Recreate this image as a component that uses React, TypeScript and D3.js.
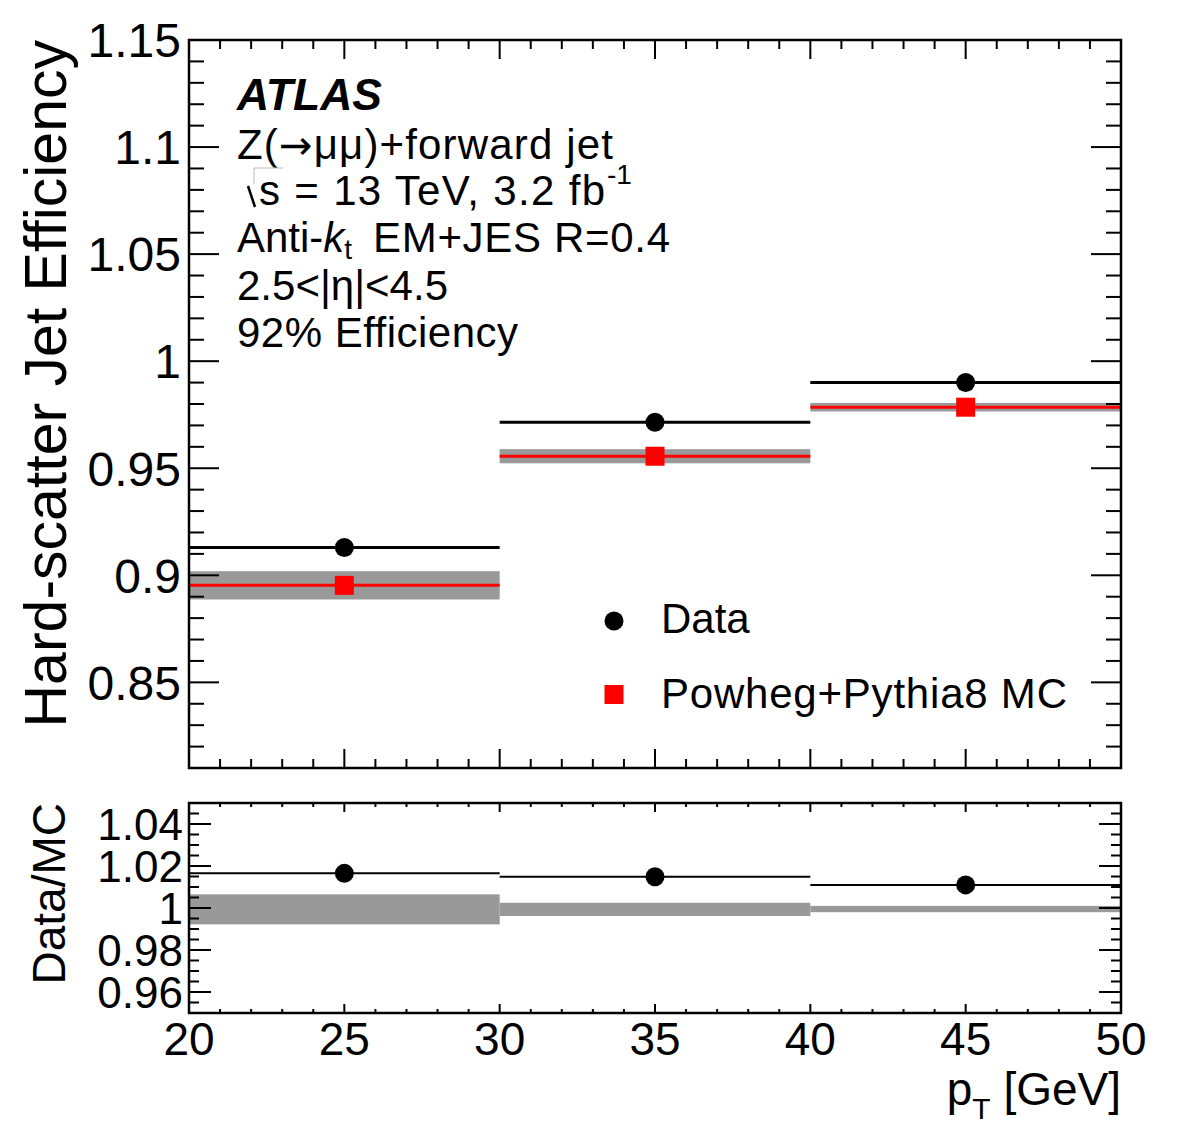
import React from "react";
import * as d3 from "d3";

// ---- data ----
const binEdges = [20, 30, 40, 50];
const binCenters = [25, 35, 45];
const dataEff = [0.913, 0.9715, 0.99];
const mcEff = [0.8953, 0.9556, 0.9785];
const mcErr = [0.0066, 0.0033, 0.002];
const ratioVals = [1.0165, 1.0149, 1.011];
const ratioBandLo = [0.9922, 0.9962, 0.998];
const ratioBandHi = [1.0065, 1.0025, 1.001];
const topYTicks = [0.85, 0.9, 0.95, 1, 1.05, 1.1, 1.15];
const topYTickLabels = ["0.85", "0.9", "0.95", "1", "1.05", "1.1", "1.15"];
const lowYTicks = [0.96, 0.98, 1, 1.02, 1.04];
const lowYTickLabels = ["0.96", "0.98", "1", "1.02", "1.04"];
const xTicks = [20, 25, 30, 35, 40, 45, 50];

const FONT = "'Liberation Sans', Arial, Helvetica, sans-serif";

const L = 189, R = 1121;
const T1 = 40, B1 = 768;
const T2 = 803, B2 = 1013;

export default function App() {
  const x = d3.scaleLinear().domain([20, 50]).range([L, R]);
  const y1 = d3.scaleLinear().domain([0.81, 1.15]).range([B1, T1]);
  const y2 = d3.scaleLinear().domain([0.95, 1.05]).range([B2, T2]);

  const xMinor = d3.range(20, 50.001, 1);
  const y1Minor = d3.range(0.81, 1.1501, 0.01);
  const y2Minor = d3.range(0.95, 1.0501, 0.005);

  const tickStroke = { stroke: "#000", strokeWidth: 2 };
  const isMajorX = (v: number) => Math.abs(v / 5 - Math.round(v / 5)) < 1e-6;
  const isMajorY1 = (v: number) => Math.abs(v / 0.05 - Math.round(v / 0.05)) < 1e-6;
  const isMajorY2 = (v: number) => Math.abs(v / 0.02 - Math.round(v / 0.02)) < 1e-6;

  return (
    <svg
      width={1182}
      height={1134}
      style={{ position: "absolute", left: 0, top: 0, background: "#fff" }}
      fontFamily={FONT}
    >
      <rect x={0} y={0} width={1182} height={1134} fill="#fff" />

      {/* ===== TOP PANEL ===== */}
      {binCenters.map((c, i) => (
        <rect
          key={"mcb" + i}
          x={x(binEdges[i])}
          width={x(binEdges[i + 1]) - x(binEdges[i])}
          y={y1(mcEff[i] + mcErr[i])}
          height={y1(mcEff[i] - mcErr[i]) - y1(mcEff[i] + mcErr[i])}
          fill="#999999"
        />
      ))}
      {binCenters.map((c, i) => (
        <line
          key={"mcl" + i}
          x1={x(binEdges[i])}
          x2={x(binEdges[i + 1])}
          y1={y1(mcEff[i])}
          y2={y1(mcEff[i])}
          stroke="#ff0000"
          strokeWidth={3}
        />
      ))}
      {binCenters.map((c, i) => (
        <line
          key={"dl" + i}
          x1={x(binEdges[i])}
          x2={x(binEdges[i + 1])}
          y1={y1(dataEff[i])}
          y2={y1(dataEff[i])}
          stroke="#000"
          strokeWidth={3}
        />
      ))}
      {binCenters.map((c, i) => (
        <rect
          key={"mcm" + i}
          x={x(c) - 9.5}
          y={y1(mcEff[i]) - 9.5}
          width={19}
          height={19}
          fill="#ff0000"
        />
      ))}
      {binCenters.map((c, i) => (
        <circle key={"dm" + i} cx={x(c)} cy={y1(dataEff[i])} r={9.5} fill="#000" />
      ))}

      {xMinor.map((v, i) => {
        const len = isMajorX(v) ? 19 : 9;
        return (
          <g key={"tx" + i}>
            <line x1={x(v)} x2={x(v)} y1={B1} y2={B1 - len} {...tickStroke} />
            <line x1={x(v)} x2={x(v)} y1={T1} y2={T1 + len} {...tickStroke} />
          </g>
        );
      })}
      {y1Minor.map((v, i) => {
        const len = isMajorY1(v) ? 30 : 15;
        return (
          <g key={"ty" + i}>
            <line x1={L} x2={L + len} y1={y1(v)} y2={y1(v)} {...tickStroke} />
            <line x1={R} x2={R - len} y1={y1(v)} y2={y1(v)} {...tickStroke} />
          </g>
        );
      })}
      <rect x={L} y={T1} width={R - L} height={B1 - T1} fill="none" stroke="#000" strokeWidth={2.5} />

      {topYTicks.map((v, i) => (
        <text key={"tyl" + i} x={181} y={y1(v)} dy="0.36em" textAnchor="end" fontSize={48}>
          {topYTickLabels[i]}
        </text>
      ))}

      <text
        transform={`translate(66, ${T1}) rotate(-90)`}
        textAnchor="end"
        fontSize={59}
      >
        Hard-scatter Jet Efficiency
      </text>

      {/* annotation */}
      <text x={237} y={110} fontSize={44} fontWeight="bold" fontStyle="italic" textLength={145} lengthAdjust="spacingAndGlyphs">ATLAS</text>
      <text x={237} y={159} fontSize={42} textLength={376} lengthAdjust="spacing">
        Z(<tspan fontFamily="'DejaVu Sans', sans-serif" fontSize={40}>→</tspan>μμ)+forward jet
      </text>
      <path d="M248,186 L255,207" stroke="#000" strokeWidth={2.5} fill="none" />
      <path d="M254,184 L254,168 L283,168" stroke="#bbb" strokeWidth={1} fill="none" />
      <text x={259} y={205} fontSize={42} textLength={346} lengthAdjust="spacing">s = 13 TeV, 3.2 fb</text>
      <text x={607} y={184} fontSize={28}>-1</text>
      <text x={237} y={252} fontSize={42}>
        Anti-<tspan fontStyle="italic">k</tspan>
        <tspan fontSize={28} dy={7}>t</tspan>
      </text>
      <text x={373} y={252} fontSize={42} textLength={297} lengthAdjust="spacing">EM+JES R=0.4</text>
      <text x={237} y={300} fontSize={42}>2.5&lt;|η|&lt;4.5</text>
      <text x={237} y={347} fontSize={42} textLength={281} lengthAdjust="spacing">92% Efficiency</text>

      {/* legend */}
      <circle cx={614} cy={621} r={9.5} fill="#000" />
      <text x={661} y={633} fontSize={42}>Data</text>
      <rect x={604.5} y={685} width={19} height={19} fill="#ff0000" />
      <text x={661} y={708} fontSize={42} textLength={406} lengthAdjust="spacing">Powheg+Pythia8 MC</text>

      {/* ===== LOWER PANEL ===== */}
      {binCenters.map((c, i) => (
        <rect
          key={"rb" + i}
          x={x(binEdges[i])}
          width={x(binEdges[i + 1]) - x(binEdges[i])}
          y={y2(ratioBandHi[i])}
          height={y2(ratioBandLo[i]) - y2(ratioBandHi[i])}
          fill="#999999"
        />
      ))}
      {binCenters.map((c, i) => (
        <line
          key={"rl" + i}
          x1={x(binEdges[i])}
          x2={x(binEdges[i + 1])}
          y1={y2(ratioVals[i])}
          y2={y2(ratioVals[i])}
          stroke="#000"
          strokeWidth={2}
        />
      ))}
      {binCenters.map((c, i) => (
        <circle key={"rm" + i} cx={x(c)} cy={y2(ratioVals[i])} r={9.5} fill="#000" />
      ))}

      {xMinor.map((v, i) => {
        const len = isMajorX(v) ? 9 : 4;
        return (
          <g key={"lx" + i}>
            <line x1={x(v)} x2={x(v)} y1={B2} y2={B2 - len} {...tickStroke} />
            <line x1={x(v)} x2={x(v)} y1={T2} y2={T2 + len} {...tickStroke} />
          </g>
        );
      })}
      {y2Minor.map((v, i) => {
        const len = isMajorY2(v) ? 22 : 10;
        return (
          <g key={"ly" + i}>
            <line x1={L} x2={L + len} y1={y2(v)} y2={y2(v)} {...tickStroke} />
            <line x1={R} x2={R - len} y1={y2(v)} y2={y2(v)} {...tickStroke} />
          </g>
        );
      })}
      <rect x={L} y={T2} width={R - L} height={B2 - T2} fill="none" stroke="#000" strokeWidth={2.5} />

      {lowYTicks.map((v, i) => (
        <text key={"lyl" + i} x={183} y={y2(v)} dy="0.36em" textAnchor="end" fontSize={44}>
          {lowYTickLabels[i]}
        </text>
      ))}
      {xTicks.map((v, i) => (
        <text key={"xl" + i} x={x(v)} y={1055} textAnchor="middle" fontSize={46}>
          {String(v)}
        </text>
      ))}

      <text
        transform={`translate(65, ${T2}) rotate(-90)`}
        textAnchor="end"
        fontSize={46}
      >
        Data/MC
      </text>

      <text x={R} y={1105} textAnchor="end" fontSize={46}>
        p<tspan fontSize={30} dy={14}>T</tspan>
        <tspan dy={-14}> [GeV]</tspan>
      </text>
    </svg>
  );
}
